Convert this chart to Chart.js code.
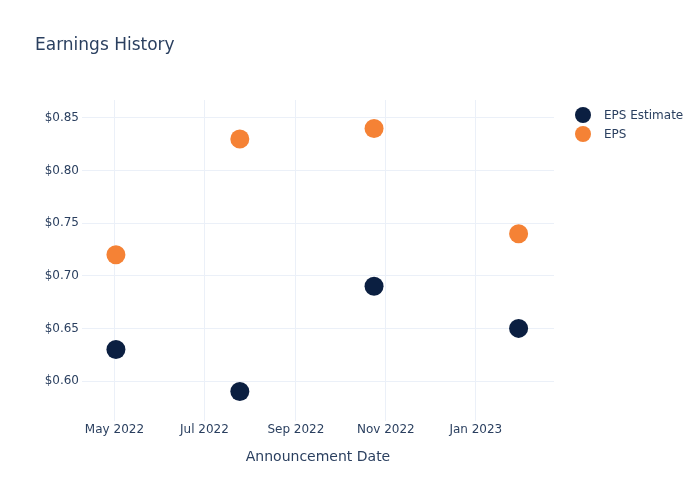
<!DOCTYPE html>
<html>
<head>
<meta charset="utf-8">
<script src="https://cdn.jsdelivr.net/npm/chart.js@4"></script>
<style>
    body { margin: 0; background: #fff; font-family: "DejaVu Sans", sans-serif; }
    #wrap { position: relative; width: 700px; height: 500px; }
    #title { position: absolute; left: 35px; top: 34px; font-size: 17px; color: #2a3f5f; }
    #legend { position: absolute; left: 575px; top: 105px; font-size: 12px; color: #2a3f5f; }
    .item { display: flex; align-items: center; height: 19px; }
    .dot { width: 16px; height: 16px; border-radius: 50%; margin-right: 13px; }
</style>
</head>
<body>
<div id="wrap">
    <canvas id="chart" width="700" height="500"></canvas>
    <div id="title">Earnings History</div>
    <div id="legend"></div>
</div>
<script>
const announceDates = ["2022-05-02", "2022-07-25", "2022-10-24", "2023-01-30"];
const epsEstimate = [0.63, 0.59, 0.69, 0.65];
const epsActual = [0.72, 0.83, 0.84, 0.74];
const xTickDates = ["2022-05-01", "2022-07-01", "2022-09-01", "2022-11-01", "2023-01-01"];
const yTicks = [0.60, 0.65, 0.70, 0.75, 0.80, 0.85];
const seriesNames = ["EPS Estimate", "EPS"];
const seriesColors = ["#0b1f41", "#f58235"];

const months = ["Jan", "Feb", "Mar", "Apr", "May", "Jun", "Jul", "Aug", "Sep", "Oct", "Nov", "Dec"];
const toMs = (s) => Date.parse(s + "T00:00:00Z");
const textColor = "#2a3f5f";
const gridColor = "#ebf0f8";

const points = (values) => values.map((v, i) => ({ x: toMs(announceDates[i]), y: v }));

new Chart(document.getElementById("chart"), {
    type: "scatter",
    data: {
        datasets: [
            {
                label: seriesNames[0],
                data: points(epsEstimate),
                backgroundColor: seriesColors[0],
                pointRadius: 9.5,
                pointHoverRadius: 9.5,
                borderWidth: 0
            },
            {
                label: seriesNames[1],
                data: points(epsActual),
                backgroundColor: seriesColors[1],
                pointRadius: 9.5,
                pointHoverRadius: 9.5,
                borderWidth: 0
            }
        ]
    },
    options: {
        responsive: false,
        animation: false,
        layout: { padding: { left: 0, right: 146, top: 100, bottom: 0 } },
        plugins: {
            legend: { display: false },
            tooltip: { enabled: false }
        },
        scales: {
            x: {
                type: "linear",
                min: toMs("2022-04-09"),
                max: toMs("2023-02-23"),
                afterBuildTicks: (scale) => {
                    scale.ticks = xTickDates.map((d) => ({ value: toMs(d) }));
                },
                afterFit: (scale) => { scale.height = 79; },
                grid: { color: gridColor, drawTicks: false },
                border: { display: false },
                ticks: {
                    color: textColor,
                    font: { family: "DejaVu Sans", size: 12 },
                    padding: 2,
                    maxRotation: 0,
                    callback: (value) => {
                        const d = new Date(value);
                        return months[d.getUTCMonth()] + " " + d.getUTCFullYear();
                    }
                },
                title: {
                    display: true,
                    text: "Announcement Date",
                    color: textColor,
                    font: { family: "DejaVu Sans", size: 14 },
                    padding: { top: 0, bottom: 34 }
                }
            },
            y: {
                min: 0.562,
                max: 0.867,
                afterBuildTicks: (scale) => {
                    scale.ticks = yTicks.map((v) => ({ value: v }));
                },
                afterFit: (scale) => { scale.width = 82; },
                grid: { color: gridColor, drawTicks: false },
                border: { display: false },
                ticks: {
                    color: textColor,
                    font: { family: "DejaVu Sans", size: 12 },
                    padding: 3,
                    callback: (value) => "$" + value.toFixed(2)
                }
            }
        }
    }
});

const legend = document.getElementById("legend");
seriesNames.forEach((name, i) => {
    const item = document.createElement("div");
    item.className = "item";
    item.innerHTML = `<span class="dot" style="background:${seriesColors[i]}"></span><span>${name}</span>`;
    legend.appendChild(item);
});
</script>
</body>
</html>
